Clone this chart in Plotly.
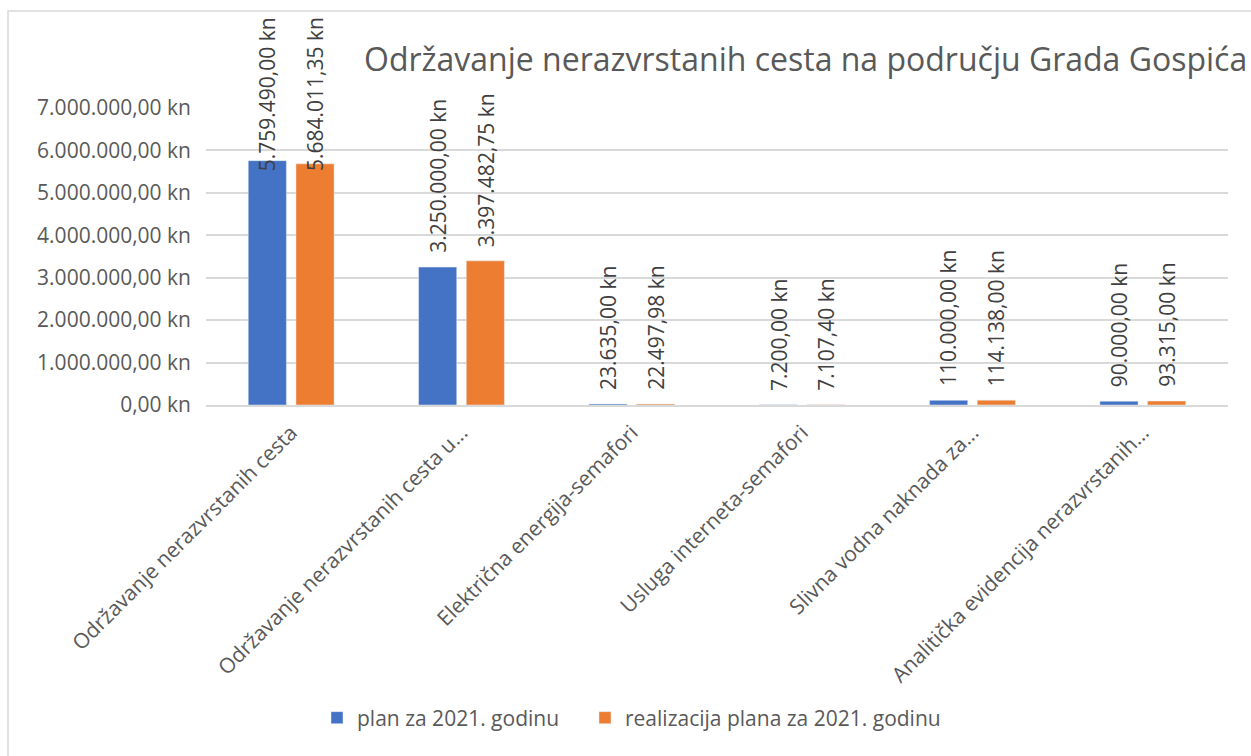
import plotly.graph_objects as go

categories = [
    "Održavanje nerazvrstanih cesta",
    "Održavanje nerazvrstanih cesta u...",
    "Električna energija-semafori",
    "Usluga interneta-semafori",
    "Slivna vodna naknada za...",
    "Analitička evidencija nerazvrstanih...",
]
plan = [5759490.00, 3250000.00, 23635.00, 7200.00, 110000.00, 90000.00]
realizacija = [5684011.35, 3397482.75, 22497.98, 7107.40, 114138.00, 93315.00]
series_names = ["plan za 2021. godinu", "realizacija plana za 2021. godinu"]
y_ticks = [0, 1000000, 2000000, 3000000, 4000000, 5000000, 6000000, 7000000]
title_text = "Održavanje nerazvrstanih cesta na području Grada Gospića"

BLUE = "#4472C4"
ORANGE = "#ED7D31"
GRID = "#D9D9D9"
TXT = "#595959"
FONT = "Open Sans"

W, H = 1251, 756
ML, MR, MT, MB = 206, 23, 108, 351
PW = W - ML - MR
PH = H - MT - MB
YMAX = 7000000


def fmt(v):
    s = f"{v:,.2f}"
    s = s.replace(",", "X").replace(".", ",").replace("X", ".")
    return s + " kn"


BARGAP = 0.44
xs = list(range(len(categories)))

fig = go.Figure()
fig.add_trace(go.Bar(x=xs, y=plan, name=series_names[0], marker_color=BLUE,
                     legend="legend"))
fig.add_trace(go.Bar(x=xs, y=realizacija, name=series_names[1], marker_color=ORANGE,
                     legend="legend2"))

annotations = []
slot = (1 - BARGAP) / 2
px_per_unit = PH / YMAX
label_len = 160
for vals, off in ((plan, -slot / 2), (realizacija, slot / 2)):
    for i, v in enumerate(vals):
        top_px = MT + PH - v * px_per_unit - 12 - label_len
        if top_px < 15:
            annotations.append(dict(
                x=i + off, xref="x", y=(MT + PH - 15) / PH, yref="paper",
                yanchor="top", xanchor="center", text=fmt(v), textangle=-90,
                showarrow=False, font=dict(family=FONT, size=21, color="#404040")))
        else:
            annotations.append(dict(
                x=i + off, xref="x", y=v, yref="y", yanchor="bottom", yshift=12,
                xanchor="center", text=fmt(v), textangle=-90, showarrow=False,
                font=dict(family=FONT, size=21, color="#404040")))

annotations.append(dict(
    x=(362 - ML) / PW, xref="paper", y=(MT + PH - 58) / PH, yref="paper",
    xanchor="left", yanchor="middle", text=title_text, showarrow=False,
    font=dict(family=FONT, size=32, color=TXT)))

leg_common = dict(orientation="h", xref="container", yref="container",
                  xanchor="left", y=(H - 718) / H, yanchor="middle",
                  font=dict(family=FONT, size=21, color=TXT),
                  itemwidth=30, bgcolor="rgba(0,0,0,0)")

fig.update_layout(
    width=W, height=H,
    margin=dict(l=ML, r=MR, t=MT, b=MB, autoexpand=False),
    paper_bgcolor="white", plot_bgcolor="white",
    barmode="group", bargap=BARGAP, bargroupgap=0.2,
    font=dict(family=FONT, size=21, color=TXT),
    separators=",.",
    showlegend=True,
    legend=dict(x=(338 - 21) / W, **leg_common),
    legend2=dict(x=(607 - 22) / W, **leg_common),
    annotations=annotations,
    shapes=[dict(type="rect", xref="paper", yref="paper",
                 x0=(8 - ML) / PW, x1=(W + 10 - ML) / PW,
                 y0=(MT + PH - H - 10) / PH, y1=(MT + PH - 11) / PH,
                 line=dict(color=GRID, width=1.5), fillcolor="rgba(0,0,0,0)",
                 layer="above")],
)
fig.update_xaxes(
    tickvals=xs, ticktext=categories, tickangle=-45, range=[-0.5, len(categories) - 0.5],
    showgrid=False, showline=True, linecolor=GRID, linewidth=2, ticks="",
    ticklabelstandoff=5,
    tickfont=dict(family=FONT, size=21, color=TXT), automargin=False,
)
fig.update_yaxes(
    range=[0, YMAX], tickvals=y_ticks, ticktext=[fmt(v) for v in y_ticks],
    showgrid=True, gridcolor=GRID, gridwidth=1.5, zeroline=False, showline=False,
    ticks="", ticklabelstandoff=14,
    tickfont=dict(family=FONT, size=21, color=TXT), automargin=False,
)

fig.write_html("out.html", config={"displayModeBar": False},
               post_script="document.body.style.margin='0px';")
